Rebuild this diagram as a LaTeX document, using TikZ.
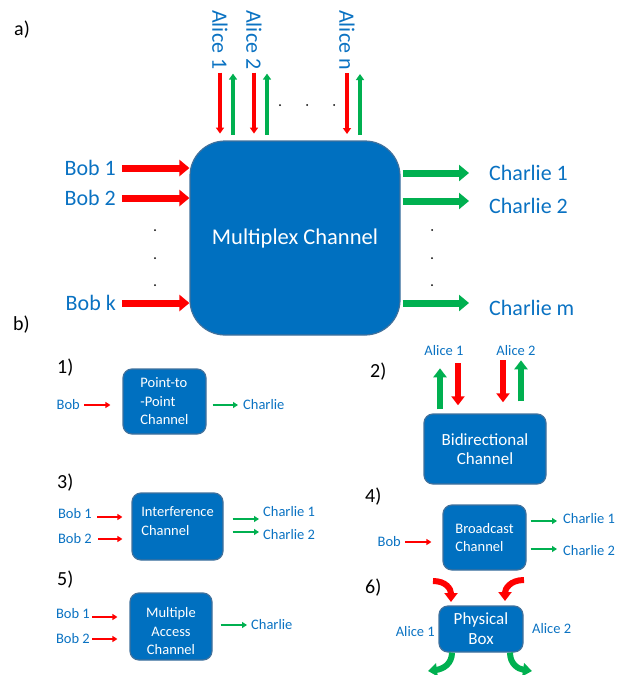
\documentclass[tikz,border=0pt]{standalone}
\usepackage{fontspec}
\setmainfont{Carlito}
\usetikzlibrary{arrows.meta,positioning,calc}

\definecolor{boxblue}{HTML}{0070C0}
\definecolor{boxedge}{HTML}{41719C}
\definecolor{lblblue}{HTML}{0A72C2}
\definecolor{inred}{HTML}{FF0000}
\definecolor{outgreen}{HTML}{00B050}

\tikzset{
  bigbox/.style={fill=boxblue, draw=boxedge, line width=1.2pt, rounded corners=35pt,
    text=white, font=\fontsize{22.5}{26}\selectfont},
  smallbox/.style={fill=boxblue, draw=boxedge, line width=1.2pt, rounded corners=9pt,
    text=white, inner sep=0pt, font=\fontsize{14.5}{18.5}\selectfont},
  biglbl/.style={text=lblblue, inner sep=0pt, font=\fontsize{22}{26}\selectfont},
  lbl/.style={text=lblblue, inner sep=0pt, font=\fontsize{14.5}{17}\selectfont},
  partlbl/.style={inner sep=0pt, anchor=west, font=\fontsize{20}{24}\selectfont},
  fatred/.style={draw=inred, line width=7pt, -{Triangle[width=16pt,length=10pt]}},
  fatgreen/.style={draw=outgreen, line width=7pt, -{Triangle[width=16pt,length=10pt]}},
  midred/.style={draw=inred, line width=3.5pt, -{Triangle[width=8pt,length=6pt]}},
  midgreen/.style={draw=outgreen, line width=3.5pt, -{Triangle[width=8pt,length=6pt]}},
  bired/.style={draw=inred, line width=6pt, -{Triangle[width=13pt,length=9pt]}},
  bigreen/.style={draw=outgreen, line width=6pt, -{Triangle[width=13pt,length=9pt]}},
  thinred/.style={draw=inred, line width=2.2pt, -{Triangle[width=6pt,length=5pt]}},
  thingreen/.style={draw=outgreen, line width=2.2pt, -{Triangle[width=6pt,length=5pt]}}
}

\begin{document}
\begin{tikzpicture}[x=1pt, y=-1pt]
    \useasboundingbox (0,0) rectangle (628,675);

    % a) multiplex channel
    \node[partlbl] (la) at (14,30) {a)};
    \node[bigbox, minimum width=210pt, minimum height=194pt] (mux) at (295,238) {Multiplex Channel\hspace{22pt}};

    \node[biglbl, anchor=east] (bob1) at (116,168) {Bob 1};
    \node[biglbl, anchor=east] (bob2) at (116,198) {Bob 2};
    \node[biglbl, anchor=east] (bobk) at (116,303) {Bob k};
    \draw[fatred] ([xshift=6pt]bob1.east) -- (bob1.east -| mux.west);
    \draw[fatred] ([xshift=6pt]bob2.east) -- (bob2.east -| mux.west);
    \draw[fatred] ([xshift=6pt]bobk.east) -- (bobk.east -| mux.west);

    \node[biglbl, anchor=west] (ch1) at (489,173) {Charlie 1};
    \node[biglbl, anchor=west] (ch2) at (489,206) {Charlie 2};
    \node[biglbl, anchor=west] (chm) at (489,308) {Charlie m};
    \draw[fatgreen] ([xshift=2pt]ch1.west -| mux.east) -- ([xshift=-20pt]ch1.west);
    \draw[fatgreen] ([xshift=2pt,yshift=5pt]ch2.west -| mux.east) -- ([xshift=-20pt,yshift=5pt]ch2.west);
    \draw[fatgreen] ([xshift=2pt,yshift=5pt]chm.west -| mux.east) -- ([xshift=-20pt,yshift=5pt]chm.west);

    \node[biglbl, rotate=-90, anchor=west] (al1) at (220,10) {Alice 1};
    \node[biglbl, rotate=-90, anchor=west] (al2) at (254,10) {Alice 2};
    \node[biglbl, rotate=-90, anchor=west] (aln) at (347,10) {Alice n};
    \foreach \a in {al1,al2,aln} {
      \draw[midred] ([yshift=-3pt]\a.east) -- ++(0,61);
      \draw[midgreen] ([xshift=13pt,yshift=-65pt]\a.east) -- ++(0,-61);
    }

    % dots
    \foreach \x in {280,307,334} \fill (\x,105) circle (1pt);
    \foreach \y in {230,258,285} {
      \fill (155,\y) circle (1pt);
      \fill (432,\y) circle (1pt);
    }

    % b) special cases
    \node[partlbl] (lb) at (13,325) {b)};

    % 1) point-to-point
    \node[partlbl] (l1) at (57,368) {1)};
    \node[smallbox, minimum width=83pt, minimum height=65pt, align=left] (p2p) at (164.5,401.5) {Point-to\\-Point\\Channel};
    \node[lbl, anchor=east] (bA) at (80,405) {Bob};
    \node[lbl, anchor=west] (cA) at (243,405) {Charlie};
    \draw[thinred] ([xshift=4pt]bA.east) -- ([xshift=-12pt]bA.east -| p2p.west);
    \draw[thingreen] ([xshift=6pt]cA.west -| p2p.east) -- ([xshift=-5pt]cA.west);

    % 2) bidirectional
    \node[partlbl] (l2) at (370,372) {2)};
    \node[smallbox, minimum width=122pt, minimum height=70pt, align=center,
      font=\fontsize{17}{19}\selectfont] (bidir) at (485,449) {Bidirectional\\Channel};
    \node[lbl] (aB1) at (444,351) {Alice 1};
    \node[lbl] (aB2) at (516,351) {Alice 2};
    \draw[bigreen] ([xshift=-4pt,yshift=-53pt]aB1.south) -- ++(0,-41);
    \draw[bired] ([xshift=14pt,yshift=-7pt]aB1.south) -- ++(0,42);
    \draw[bired] ([xshift=-13pt,yshift=-4pt]aB2.south) -- ++(0,42);
    \draw[bigreen] ([xshift=5pt,yshift=-45pt]aB2.south) -- ++(0,-41);

    % 3) interference
    \node[partlbl] (l3) at (57,483) {3)};
    \node[smallbox, minimum width=91pt, minimum height=67pt, align=left] (intf) at (177.5,526.5) {Interference\\Channel\\[-8pt]};
    \node[lbl, anchor=east] (bC1) at (92,514) {Bob 1};
    \node[lbl, anchor=east] (bC2) at (92,539) {Bob 2};
    \node[lbl, anchor=west] (cC1) at (263,512) {Charlie 1};
    \node[lbl, anchor=west] (cC2) at (263,535) {Charlie 2};
    \draw[thinred] ([xshift=5pt,yshift=-3pt]bC1.east) -- ([xshift=-9pt,yshift=-3pt]bC1.east -| intf.west);
    \draw[thinred] ([xshift=6pt]bC2.east) -- ([xshift=-9pt]bC2.east -| intf.west);
    \draw[thingreen] ([xshift=9pt,yshift=-7pt]cC1.west -| intf.east) -- ([xshift=-4pt,yshift=-7pt]cC1.west);
    \draw[thingreen] ([xshift=9pt,yshift=3pt]cC2.west -| intf.east) -- ([xshift=-4pt,yshift=3pt]cC2.west);

    % 4) broadcast
    \node[partlbl] (l4) at (365,497) {4)};
    \node[smallbox, minimum width=83pt, minimum height=65pt, align=left] (bcast) at (484.5,537.5) {Broadcast\\Channel};
    \node[lbl, anchor=east] (bD) at (401,542) {Bob};
    \node[lbl, anchor=west] (cD1) at (563,519) {Charlie 1};
    \node[lbl, anchor=west] (cD2) at (563,551) {Charlie 2};
    \draw[thinred] ([xshift=4pt]bD.east) -- ([xshift=-11pt]bD.east -| bcast.west);
    \draw[thingreen] ([xshift=4pt,yshift=-2pt]cD1.west -| bcast.east) -- ([xshift=-6pt,yshift=-2pt]cD1.west);
    \draw[thingreen] ([xshift=4pt,yshift=2pt]cD2.west -| bcast.east) -- ([xshift=-6pt,yshift=2pt]cD2.west);

    % 5) multiple access
    \node[partlbl] (l5) at (57,580) {5)};
    \node[smallbox, minimum width=82pt, minimum height=67pt, align=center] (mac) at (171,626.5) {\rule{0pt}{20pt}Multiple\\Access\\Channel};
    \node[lbl, anchor=east] (bE1) at (90,614) {Bob 1};
    \node[lbl, anchor=east] (bE2) at (90,639) {Bob 2};
    \node[lbl, anchor=west] (cE) at (251,625) {Charlie};
    \draw[thinred] ([xshift=2pt,yshift=-3pt]bE1.east) -- ([xshift=-12pt,yshift=-3pt]bE1.east -| mac.west);
    \draw[thinred] ([xshift=2pt]bE2.east) -- ([xshift=-12pt]bE2.east -| mac.west);
    \draw[thingreen] ([xshift=8pt]cE.west -| mac.east) -- ([xshift=-4pt]cE.west);

    % 6) physical box
    \node[partlbl] (l6) at (365,588) {6)};
    \node[smallbox, minimum width=84pt, minimum height=46pt, align=center,
      font=\fontsize{17}{20}\selectfont] (pbox) at (481,629) {Physical\\Box};
    \node[lbl, anchor=east] (aF1) at (435,632) {Alice 1};
    \node[lbl, anchor=west] (aF2) at (532,629) {Alice 2};
    \draw[bired] (433,581) .. controls (446,581) and (451,589) .. (451,602);
    \draw[bired] (524,580) .. controls (510,580) and (505,589) .. (505,601);
    \draw[bigreen] ([xshift=-29pt]pbox.south) .. controls (452,664) and (443,669) .. (428,671);
    \draw[bigreen] ([xshift=29pt]pbox.south) .. controls (510,664) and (518,669) .. (532,671);
\end{tikzpicture}
\end{document}
